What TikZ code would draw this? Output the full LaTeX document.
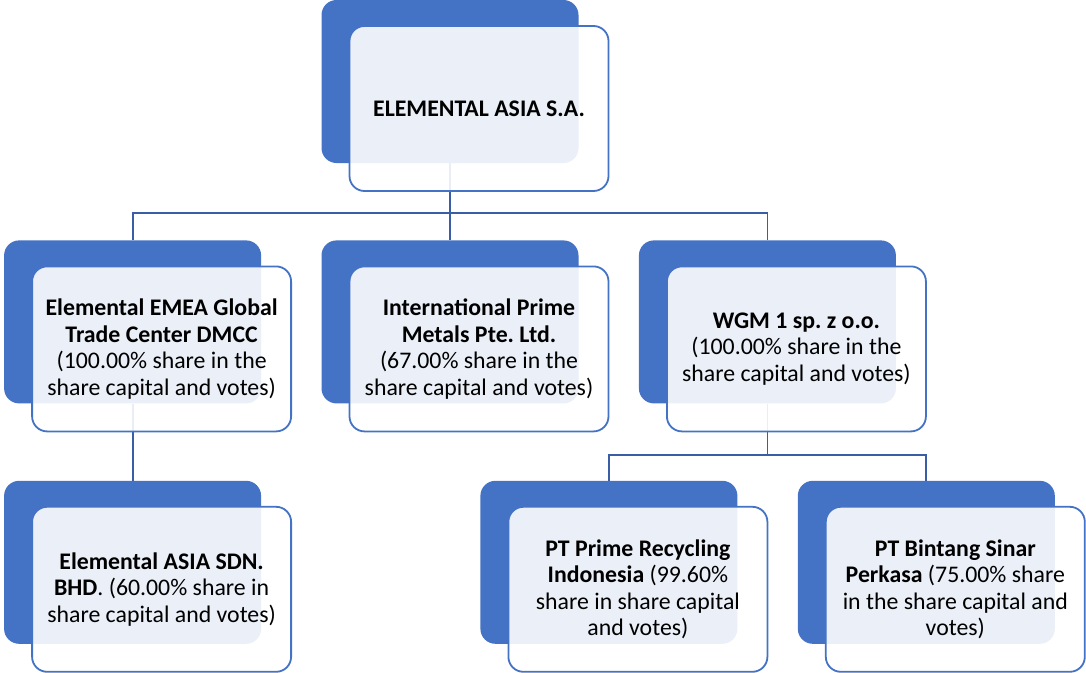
\documentclass[tikz,border=0pt]{standalone}
\usepackage{fontspec}
\setmainfont{Carlito}
\usepackage{xcolor}
\usepackage{tikz}
\usetikzlibrary{positioning}

\definecolor{unitblue}{HTML}{4472C4}
\definecolor{linkblue}{HTML}{3A5EA5}

\begin{document}
\frenchspacing
\begin{tikzpicture}[
                    x=1pt, y=1pt,
                    node distance=77pt and 60pt,
                    every node/.style={align=center, font=\fontsize{23.8}{26.5}\selectfont},
                    back/.style={fill=unitblue, rounded corners=15pt, minimum width=257pt, minimum height=163pt, inner sep=0pt},
                    front/.style={draw=unitblue, line width=1.8pt, fill=white, fill opacity=0.89, text opacity=1, rounded corners=15pt, minimum width=259pt, minimum height=165pt, inner sep=0pt, xshift=29pt, yshift=-27pt},
                    link/.style={draw=linkblue, line width=1.8pt}
                ]

                    \useasboundingbox (0,0) rectangle (1086,-672);

                    % Back blocks (one per company)
                    \node (topback) [back] at (450,-81.5) {};
                    \node (midback) [back, below=of topback] {};
                    \node (leftback) [back, left=of midback] {};
                    \node (rightback) [back, right=of midback] {};
                    \node (sdnback) [back, below=of leftback] {};
                    \node (primeback) [back, below=of rightback, xshift=-158.5pt] {};
                    \node (bintangback) [back, right=of primeback] {};

                    % Lines
                    \draw[link] (topback.south) -- (midback.north);
                    \draw[link] (topback.south) ++(0,-50) -| (leftback.north);
                    \draw[link] (topback.south) ++(0,-50) -| (rightback.north);
                    \draw[link] (leftback.south) -- (sdnback.north);
                    \draw[link] (rightback.south) -- ++(0,-51) -| (primeback.north);
                    \draw[link] (rightback.south) ++(0,-51) -| (bintangback.north);

                    % Text blocks
                    \node (top) [front] at (topback) {\textbf{ELEMENTAL ASIA S.A.}};
                    \node (emea) [front] at (leftback) {\textbf{Elemental EMEA Global}\\ \textbf{Trade Center DMCC}\\ (100.00\% share in the\\ share capital and votes)};
                    \node (ipm) [front] at (midback) {\textbf{International Prime}\\ \textbf{Metals Pte. Ltd.}\\ (67.00\% share in the\\ share capital and votes)};
                    \node (wgm) [front] at (rightback) {\textbf{WGM 1 sp. z o.o.}\\ (100.00\% share in the\\ share capital and votes)};
                    \node (sdn) [front] at (sdnback) {\textbf{Elemental ASIA SDN.}\\ \textbf{BHD}. (60.00\% share in\\ share capital and votes)};
                    \node (prime) [front] at (primeback) {\textbf{PT Prime Recycling}\\ \textbf{Indonesia} (99.60\%\\ share in share capital\\ and votes)};
                    \node (bintang) [front] at (bintangback) {\textbf{PT Bintang Sinar}\\ \textbf{Perkasa} (75.00\% share\\ in the share capital and\\ votes)};

                \end{tikzpicture}
\end{document}
